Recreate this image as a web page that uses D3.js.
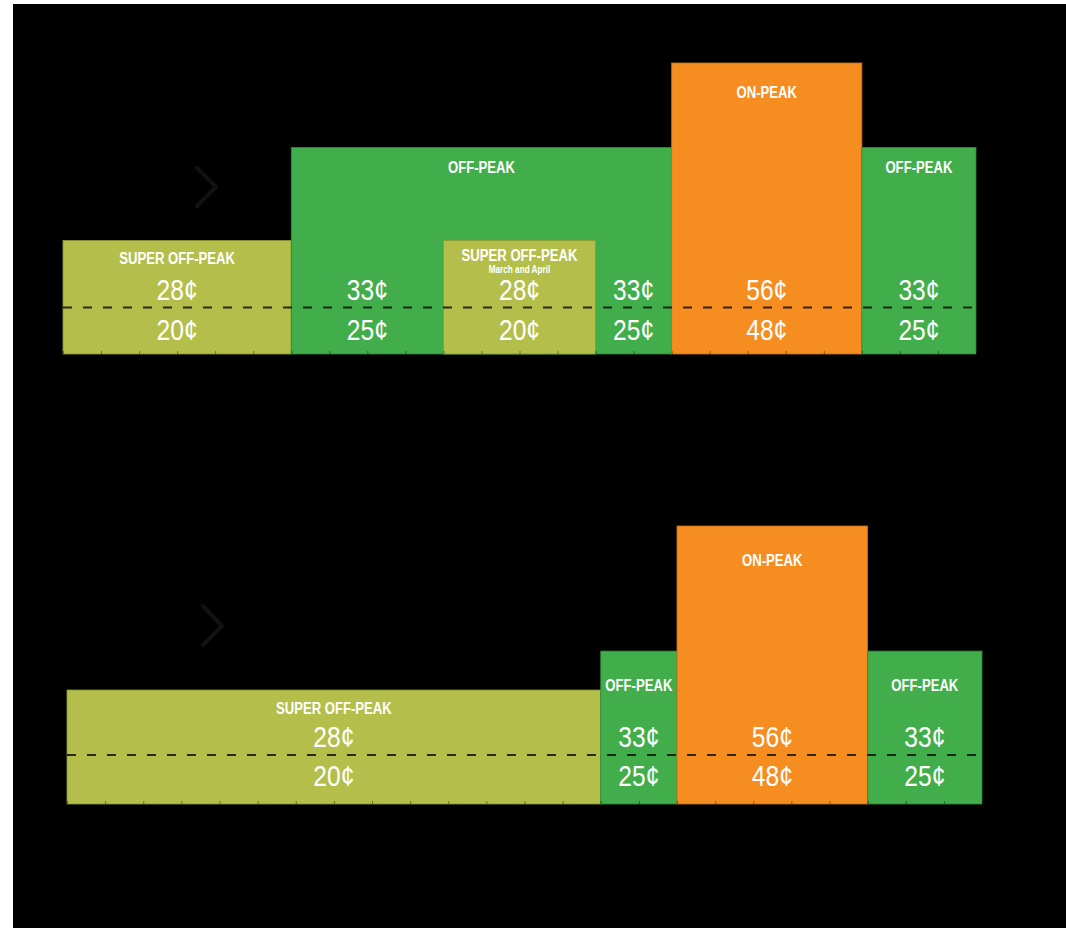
<!DOCTYPE html>
<html>
<head>
<meta charset="utf-8">
<script src="https://cdn.jsdelivr.net/npm/d3@7"></script>
<style>
  body { margin: 0; background: #fff; }
  svg { display: block; }
  .lbl { font-family: "Liberation Sans", Arial, sans-serif; font-weight: bold; fill: #fff; }
  .price { font-family: "Liberation Sans", Arial, sans-serif; fill: #fff; }
</style>
</head>
<body>
<svg id="chart" width="1066" height="928"></svg>
<script>
// rate periods and prices (cents per kWh)
var periodNames = ['SUPER OFF-PEAK', 'OFF-PEAK', 'ON-PEAK'];
var priceHigh = [28, 33, 56];
var priceLow = [20, 25, 48];

// relative bar height for each period (on-peak = 100)
var weekdayLevel = [39, 71, 100];
var weekendLevel = [41, 55, 100];

// weekday blocks: hour from / to, period index, note
var weekdayFrom = [0, 6, 10, 16, 21];
var weekdayTo = [6, 16, 14, 21, 24];
var weekdayPeriod = [0, 1, 0, 2, 1];
var weekdayNote = ['', '', 'March and April', '', ''];

// weekday price cells (where the prices are written)
var weekdayCellFrom = [0, 6, 10, 14, 16, 21];
var weekdayCellTo = [6, 10, 14, 16, 21, 24];
var weekdayCellPeriod = [0, 1, 0, 1, 2, 1];

// weekend blocks
var weekendFrom = [0, 14, 16, 21];
var weekendTo = [14, 16, 21, 24];
var weekendPeriod = [0, 1, 2, 1];
var weekendNote = ['', '', '', ''];

var hourTicks = d3.range(0, 25);

var colors = ['#b3bf4a', '#41ae4b', '#f68d21'];
var edges = ['#8e9a33', '#2f8a39', '#c8701a'];

// narrow look: squeeze text horizontally
var squeeze = 0.82;

var svg = d3.select('#chart');
svg.append('rect').attr('x', 13).attr('y', 4).attr('width', 1053).attr('height', 924).attr('fill', '#000');

var charts = [
  {
    x0: 63, x1: 976, bottom: 354, top: 63,
    level: weekdayLevel,
    from: weekdayFrom, to: weekdayTo, period: weekdayPeriod, note: weekdayNote,
    cellFrom: weekdayCellFrom, cellTo: weekdayCellTo, cellPeriod: weekdayCellPeriod,
    labelOffset: [23, 26, 35], noteLabelOffset: 20,
    highY: 300, lowY: 340, dashY: 307.5,
    chevron: [[197, 168], [216, 187], [197, 206]]
  },
  {
    x0: 67, x1: 982, bottom: 804, top: 526,
    level: weekendLevel,
    from: weekendFrom, to: weekendTo, period: weekendPeriod, note: weekendNote,
    cellFrom: weekendFrom, cellTo: weekendTo, cellPeriod: weekendPeriod,
    labelOffset: [24, 40, 40], noteLabelOffset: 20,
    highY: 747, lowY: 786, dashY: 755,
    chevron: [[203, 606], [222, 626], [203, 645]]
  }
];

function place(x, y) {
  return 'translate(' + x + ',' + y + ') scale(' + squeeze + ',1)';
}

charts.forEach(function(c) {
  var g = svg.append('g');
  var xScale = d3.scaleLinear().domain([0, 24]).range([c.x0, c.x1]);
  var yScale = d3.scaleLinear().domain([0, 100]).range([c.bottom, c.top]);

  // faint chevron to the left
  g.append('path')
    .attr('d', d3.line()(c.chevron))
    .attr('fill', 'none')
    .attr('stroke', '#121212')
    .attr('stroke-width', 4)
    .attr('stroke-linecap', 'round')
    .attr('stroke-linejoin', 'round');

  var blocks = d3.range(c.from.length);
  var mid = function(i) { return (xScale(c.from[i]) + xScale(c.to[i])) / 2; };
  var topOf = function(i) { return yScale(c.level[c.period[i]]); };

  g.selectAll('.block').data(blocks).enter()
    .append('rect')
    .attr('class', 'block')
    .attr('x', function(i) { return xScale(c.from[i]); })
    .attr('width', function(i) { return xScale(c.to[i]) - xScale(c.from[i]); })
    .attr('y', topOf)
    .attr('height', function(i) { return c.bottom - topOf(i); })
    .attr('fill', function(i) { return colors[c.period[i]]; })
    .attr('stroke', function(i) { return edges[c.period[i]]; })
    .attr('stroke-width', 0.8);

  // period names
  g.selectAll('.lbl').data(blocks).enter()
    .append('text')
    .attr('class', 'lbl')
    .attr('text-anchor', 'middle')
    .attr('font-size', 16)
    .attr('transform', function(i) {
      var off = c.note[i] ? c.noteLabelOffset : c.labelOffset[c.period[i]];
      return place(mid(i), topOf(i) + off);
    })
    .text(function(i) { return periodNames[c.period[i]]; });

  g.selectAll('.note').data(blocks.filter(function(i) { return c.note[i]; })).enter()
    .append('text')
    .attr('class', 'lbl note')
    .attr('text-anchor', 'middle')
    .attr('font-size', 10)
    .attr('transform', function(i) { return place(mid(i), topOf(i) + c.noteLabelOffset + 12); })
    .text(function(i) { return c.note[i]; });

  // hour ticks along the bottom
  g.append('g')
    .attr('transform', 'translate(0,' + c.bottom + ')')
    .call(d3.axisTop(xScale).tickValues(hourTicks).tickSize(3).tickFormat(''))
    .call(function(a) {
      a.select('.domain').remove();
      a.selectAll('line').attr('stroke', '#000').attr('stroke-opacity', 0.4);
    });

  // dashed divider between the two price rows
  g.append('line')
    .attr('x1', xScale(0)).attr('x2', xScale(24))
    .attr('y1', c.dashY).attr('y2', c.dashY)
    .attr('stroke', '#111')
    .attr('stroke-opacity', 0.85)
    .attr('stroke-width', 2)
    .attr('stroke-dasharray', '9,11');

  var cells = d3.range(c.cellFrom.length);
  [['high', priceHigh, c.highY], ['low', priceLow, c.lowY]].forEach(function(row) {
    g.selectAll('.p-' + row[0]).data(cells).enter()
      .append('text')
      .attr('class', 'price p-' + row[0])
      .attr('text-anchor', 'middle')
      .attr('font-size', 30)
      .attr('transform', function(i) {
        return place((xScale(c.cellFrom[i]) + xScale(c.cellTo[i])) / 2, row[2]);
      })
      .text(function(i) { return row[1][c.cellPeriod[i]] + '¢'; });
  });
});
</script>
</body>
</html>
